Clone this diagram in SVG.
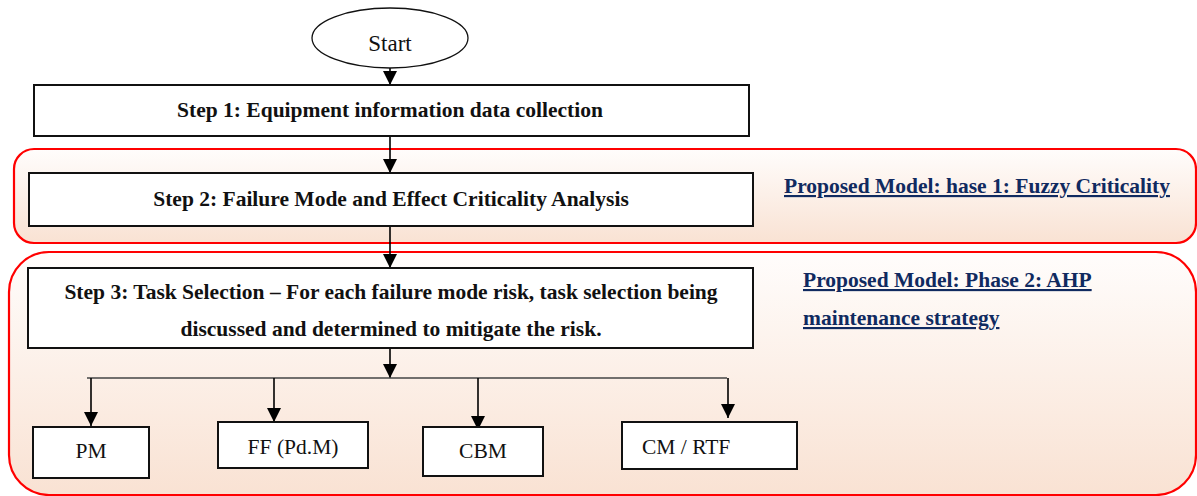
<svg xmlns="http://www.w3.org/2000/svg" width="1197" height="496" viewBox="0 0 1197 496">
<style>
.box{fill:#fff;stroke:#111;stroke-width:2}
.grp{stroke:#f00;stroke-width:2.2}
.b{font-family:"Liberation Serif","Times New Roman",serif;font-weight:bold;font-size:21.5px;fill:#111}
.r{font-family:"Liberation Serif","Times New Roman",serif;font-size:21.5px;fill:#111}
.lbl{font-family:"Liberation Serif","Times New Roman",serif;font-weight:bold;font-size:21.5px;fill:#102a60;text-decoration:underline}
.c{fill:none;stroke:#000;stroke-width:1.6}
</style>
<defs>
<linearGradient id="peach" x1="0" y1="0" x2="0" y2="1">
<stop offset="0" stop-color="#fffdfc"/>
<stop offset="1" stop-color="#f9e2d3"/>
</linearGradient>
<marker id="ah" markerUnits="userSpaceOnUse" markerWidth="14" markerHeight="14" refX="14" refY="7" orient="auto">
<path d="M0,0 L14,7 L0,14 z" fill="#000"/>
</marker>
</defs>
<g id="phase1">
<rect class="grp" x="14" y="149" width="1182" height="94" rx="20" fill="url(#peach)"/>
<text class="lbl" x="784" y="193">Proposed Model: hase 1: Fuzzy Criticality</text>
</g>
<g id="phase2">
<rect class="grp" x="9" y="252" width="1187" height="243" rx="40" fill="url(#peach)"/>
<text class="lbl" x="803" y="287">Proposed Model: Phase 2: AHP</text>
<text class="lbl" x="803" y="325">maintenance strategy</text>
</g>
<g id="connectors">
<line class="c" x1="390" y1="68" x2="390" y2="85" marker-end="url(#ah)"/>
<line class="c" x1="390" y1="136" x2="390" y2="173" marker-end="url(#ah)"/>
<line class="c" x1="390" y1="226" x2="390" y2="268" marker-end="url(#ah)"/>
<line class="c" x1="390" y1="348" x2="390" y2="378" marker-end="url(#ah)"/>
<line x1="87" y1="378" x2="727" y2="378" stroke="#444" stroke-width="1.5"/>
<line class="c" x1="91" y1="378" x2="91" y2="426" marker-end="url(#ah)"/>
<line class="c" x1="274" y1="378" x2="274" y2="422" marker-end="url(#ah)"/>
<line class="c" x1="478" y1="378" x2="478" y2="430" marker-end="url(#ah)"/>
<line class="c" x1="728" y1="378" x2="728" y2="418" marker-end="url(#ah)"/>
</g>
<g id="start">
<ellipse cx="390" cy="38" rx="78" ry="30" fill="#fff" stroke="#111" stroke-width="1.3"/>
<text class="r" x="390" y="51" text-anchor="middle" style="font-size:23px">Start</text>
</g>
<g id="step1">
<rect class="box" x="34" y="85" width="715" height="51"/>
<text class="b" x="390" y="117" text-anchor="middle">Step 1: Equipment information data collection</text>
</g>
<g id="step2">
<rect class="box" x="29" y="173" width="724" height="53"/>
<text class="b" x="391" y="206" text-anchor="middle">Step 2: Failure Mode and Effect Criticality Analysis</text>
</g>
<g id="step3">
<rect class="box" x="28" y="268" width="725" height="80"/>
<text class="b" x="391" y="299" text-anchor="middle">Step 3: Task Selection – For each failure mode risk, task selection being</text>
<text class="b" x="391" y="336" text-anchor="middle">discussed and determined to mitigate the risk.</text>
</g>
<g id="pm">
<rect class="box" x="33" y="427" width="116" height="51"/>
<text class="r" x="91" y="458" text-anchor="middle">PM</text>
</g>
<g id="ff">
<rect class="box" x="218" y="422" width="150" height="46"/>
<text class="r" x="293" y="454" text-anchor="middle">FF (Pd.M)</text>
</g>
<g id="cbm">
<rect class="box" x="423" y="427" width="120" height="49"/>
<text class="r" x="483" y="458" text-anchor="middle">CBM</text>
</g>
<g id="cmrtf">
<rect class="box" x="622" y="422" width="175" height="47"/>
<text class="r" x="642" y="454">CM / RTF</text>
</g>
</svg>
